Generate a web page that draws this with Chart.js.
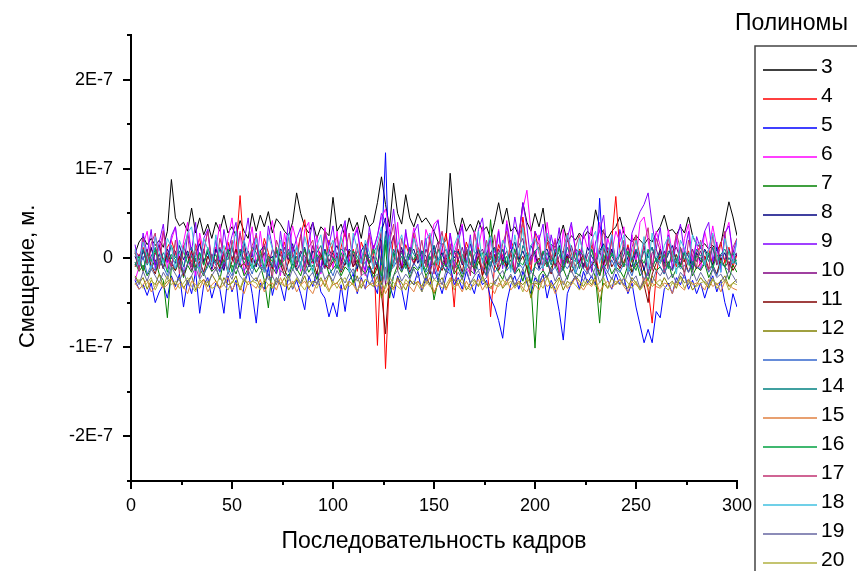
<!DOCTYPE html>
<html>
<head>
<meta charset="utf-8">
<script src="https://cdn.jsdelivr.net/npm/chart.js@4.4.0/dist/chart.umd.min.js"></script>
<style>
    html, body { margin: 0; padding: 0; background: #fff; }
</style>
</head>
<body>
<canvas id="chart-1" width="857" height="571"></canvas>
<script>
// frame numbers (every second frame)
var frames = [
    2,4,6,8,10,12,14,16,18,20,
    22,24,26,28,30,32,34,36,38,40,
    42,44,46,48,50,52,54,56,58,60,
    62,64,66,68,70,72,74,76,78,80,
    82,84,86,88,90,92,94,96,98,100,
    102,104,106,108,110,112,114,116,118,120,
    122,124,126,128,130,132,134,136,138,140,
    142,144,146,148,150,152,154,156,158,160,
    162,164,166,168,170,172,174,176,178,180,
    182,184,186,188,190,192,194,196,198,200,
    202,204,206,208,210,212,214,216,218,220,
    222,224,226,228,230,232,234,236,238,240,
    242,244,246,248,250,252,254,256,258,260,
    262,264,266,268,270,272,274,276,278,280,
    282,284,286,288,290,292,294,296,298,300
];

// displacement, nm (1E-7 m = 100)
var p3 = [
    5,18,24,15,22,14,20,12,30,88,
    45,36,40,30,56,28,45,26,38,22,
    40,30,48,28,35,25,42,30,22,50,
    30,48,35,52,28,44,38,30,25,40,
    73,50,35,28,40,22,35,30,25,68,
    30,38,24,45,30,40,22,48,35,40,
    62,91,60,35,84,50,38,71,45,35,
    50,40,45,38,30,18,15,20,95,40,
    25,45,30,38,28,42,30,35,22,40,
    62,38,56,30,35,25,62,40,30,50,
    35,56,20,15,12,22,37,18,25,20,
    28,22,30,25,54,35,28,22,30,35,
    46,28,22,18,25,20,15,22,18,28,
    35,48,30,32,26,35,28,46,25,15,
    12,16,10,14,8,15,40,63,46,25
];
var p4 = [
    8,2,12,-5,10,4,15,-3,12,20,
    5,-8,14,2,-4,10,22,-6,8,0,
    12,-5,6,18,-2,10,70,5,-10,8,
    15,-4,22,6,-12,10,2,18,-6,12,
    4,25,43,8,-5,14,2,-10,20,6,
    -8,12,30,-4,10,-15,18,5,-6,14,
    -98,10,-124,-20,25,8,-10,15,2,-5,
    12,4,-8,20,6,-15,10,28,-5,-55,
    10,-6,18,4,-10,12,-20,5,-66,-8,
    15,2,-12,20,8,-4,46,10,-15,30,
    5,-10,18,2,-8,14,-4,22,6,-12,
    10,0,-15,14,4,-20,12,-6,20,69,
    8,-10,15,-5,22,2,-12,-35,-73,-20,
    10,-8,16,4,-10,12,-4,8,-15,6,
    14,-2,10,-8,5,18,-6,12,-10,4
];
var p5 = [
    -25,-35,-30,-42,-28,-50,-38,-30,-45,-20,
    -32,-18,-55,-25,-40,-15,-62,-30,-22,-45,
    -28,-35,-62,-20,-38,-25,-68,-30,-15,-40,
    -73,-28,-35,-10,-42,-22,-30,-48,-18,-35,
    -25,-40,-58,-20,-32,-15,-38,-45,-66,-50,
    -66,-30,-60,-25,-18,-40,-22,-35,-10,-28,
    -40,5,118,-30,-45,-20,-35,-58,-25,-30,
    -15,-38,-22,-30,-12,-25,-40,-20,-8,-30,
    -22,-35,-15,-28,-40,-18,-30,-25,-45,-55,
    -70,-90,-50,-30,-20,-35,-15,-28,-40,-22,
    -30,-18,-45,-25,-35,-60,-92,-40,-28,-20,
    -35,-15,-28,-20,-30,67,-10,-25,-35,-18,
    -30,-22,-40,-28,-55,-75,-95,-80,-95,-60,
    -67,-35,-28,-40,-22,-30,-18,-35,-25,-40,
    -28,-45,-30,-20,-38,-25,-50,-66,-40,-55
];
var p6 = [
    -25,-10,15,30,-5,25,8,31,-12,20,
    35,-8,18,40,4,-20,28,6,32,-15,
    10,38,-12,22,45,4,30,-18,12,35,
    -10,30,-4,24,42,8,-20,28,2,36,
    18,-15,32,40,-6,25,-18,34,10,-12,
    30,-8,38,-14,22,35,2,-20,28,8,
    25,45,55,30,-10,40,-15,28,6,34,
    12,-16,32,18,38,43,-8,-15,28,4,
    24,38,-10,-18,30,12,35,-22,20,6,
    32,-6,42,15,-14,28,55,76,30,-5,
    26,-15,40,8,22,-18,32,-4,36,12,
    -12,28,10,35,-6,40,-18,22,6,30,
    18,35,-14,26,-4,40,46,20,-12,30,
    14,-16,32,5,26,-10,22,38,-4,18,
    -14,30,8,36,12,-12,26,40,-2,20
];
var p7 = [
    -5,-15,-8,-20,-12,-2,-18,-25,-67,-10,
    -14,-4,-22,-8,-16,0,-12,-20,-6,-15,
    -10,-24,-2,-14,-8,-18,-4,-20,-12,-6,
    -16,-8,-25,-56,-10,-18,-2,-14,-22,-6,
    -12,-20,-4,-16,-8,-24,-10,-2,-18,-12,
    -6,-20,-10,-15,-28,-4,-12,-18,-8,-22,
    -10,-30,15,-45,-20,-8,-16,-4,-22,-10,
    -14,-6,-20,-12,-47,-25,-8,-16,-2,-18,
    -10,-22,-6,-14,-18,-4,-12,-20,43,-8,
    -16,-24,-10,-2,-18,-12,-26,-8,-30,-101,
    -20,-14,-22,-10,-4,-18,-12,-24,-8,-16,
    -20,-6,-14,-10,-22,-73,-12,-4,-18,-10,
    -14,-22,-8,-16,-2,-20,-12,-26,-6,-14,
    -10,-18,-4,-22,-12,-8,-16,-2,-20,-10,
    -14,-6,-22,-12,-18,-4,-10,-24,-8,-16
];
var p8 = [
    2,-10,8,-4,12,-8,5,-12,10,0,
    -6,14,-2,8,-10,4,16,-4,6,-12,
    10,-2,-14,6,12,-6,2,18,-8,4,
    -10,8,14,-4,2,-12,10,6,-2,16,
    -6,4,12,-10,8,2,-14,10,-4,6,
    14,-2,-8,10,4,-12,8,16,-6,2,
    -10,30,45,-20,6,-4,12,-8,4,10,
    -6,8,2,-12,14,-2,6,-10,12,0,
    8,-8,4,16,-6,10,-2,-12,6,12,
    -4,10,-10,6,18,-2,8,-6,14,4,
    -12,6,10,-4,2,14,-8,4,-2,10,
    6,-10,12,2,-6,8,16,-4,10,-8,
    4,12,-2,-10,8,2,-14,6,12,-4,
    10,-6,4,14,-2,-8,8,2,-12,6,
    -4,10,2,-8,12,-2,6,-10,8,2
];
var p9 = [
    15,-10,28,4,32,-12,18,38,-5,25,
    35,-2,-18,28,8,40,-10,22,32,-4,
    20,-15,32,6,25,40,-8,18,45,2,
    28,-6,-14,36,12,-18,30,-2,42,6,
    22,34,-10,18,40,2,-16,28,14,36,
    -4,26,42,-12,20,32,-2,-14,35,10,
    25,50,40,20,55,10,-12,32,-2,28,
    38,-4,22,-16,30,42,12,-8,28,-10,
    18,36,-6,26,-18,32,45,2,24,-4,
    30,-12,38,10,46,22,62,35,-6,30,
    20,38,-10,26,4,34,-14,22,40,8,
    -6,28,36,-16,18,30,48,-2,26,-12,
    32,12,-14,28,40,52,60,73,38,10,
    34,-4,26,-12,20,38,6,30,-14,24,
    10,30,40,-4,18,-16,28,36,6,22
];
var p10 = [
    -8,4,-2,10,-12,6,14,-4,2,-10,
    8,-6,12,2,-14,6,-2,10,-8,4,
    -4,12,-10,6,2,-12,10,-2,8,-6,
    14,-4,6,-10,10,2,-8,12,-2,6,
    -10,8,2,-6,14,-4,6,-12,10,0,
    6,-8,12,4,-10,8,-2,14,-6,2,
    -12,20,-30,10,25,-6,8,-4,12,-8,
    4,-10,10,-2,6,18,-8,4,-12,8,
    -2,12,-6,8,-14,4,10,-4,6,-10,
    10,-2,8,-10,4,14,22,-6,2,8,
    -8,6,-4,12,-10,2,8,-6,14,-2,
    6,-12,4,10,-4,8,-8,12,2,-6,
    -10,4,12,-2,8,-6,14,-20,6,10,
    -4,8,-10,6,12,-2,4,-8,10,-4,
    8,-6,2,12,-8,4,-2,10,-6,6
];
var p11 = [
    -10,-2,-15,4,-8,-18,0,-12,6,-6,
    -14,2,-20,-6,8,-10,-4,-16,2,-8,
    -2,-12,6,-18,-4,10,-10,-6,-14,0,
    -8,4,-16,-2,-12,8,-6,-20,-4,2,
    -14,-6,10,-10,-2,-18,4,-8,-12,-4,
    2,-16,-6,8,-10,-2,-14,4,-8,-18,
    -6,-40,-85,-20,-4,10,-12,-2,-16,-6,
    4,-10,-2,-18,6,-8,-14,0,-6,-12,
    -2,-16,8,-6,-12,2,-20,-4,-10,4,
    -14,-2,-8,6,-16,-6,2,-12,-30,-8,
    0,-10,-4,-18,6,-6,-12,2,-16,-8,
    -4,4,-14,-8,-2,-20,-6,8,-10,-2,
    -12,-4,6,-16,-8,-2,-30,-50,-18,-6,
    2,-10,-6,-14,4,-8,-2,-16,-4,-12,
    -6,2,-12,-8,-18,0,-10,-4,-14,-6
];
var p12 = [
    -20,-28,-22,-35,-25,-30,-18,-32,-26,-24,
    -30,-22,-34,-26,-20,-36,-28,-24,-32,-18,
    -26,-34,-22,-30,-28,-20,-36,-24,-30,-26,
    -22,-32,-28,-18,-34,-26,-30,-22,-36,-28,
    -24,-30,-20,-34,-26,-28,-22,-32,-18,-30,
    -28,-22,-36,-26,-30,-20,-34,-24,-28,-32,
    -20,-45,-30,-26,-34,-22,-28,-36,-24,-30,
    -26,-32,-20,-30,-40,-28,-22,-34,-26,-24,
    -30,-22,-36,-28,-24,-32,-20,-30,-34,-26,
    -22,-34,-28,-20,-32,-26,-30,-24,-45,-28,
    -30,-24,-20,-34,-28,-22,-36,-26,-30,-20,
    -26,-32,-24,-30,-20,-50,-28,-34,-22,-30,
    -24,-30,-34,-22,-28,-36,-26,-32,-20,-28,
    -32,-22,-30,-26,-34,-20,-28,-24,-36,-30,
    -22,-28,-34,-24,-30,-26,-20,-32,-28,-24
];
var p13 = [
    -5,-12,2,-18,-8,-14,0,-10,-20,-4,
    -12,-2,-16,-8,4,-14,-6,-18,-10,0,
    -8,-16,-4,-12,-20,-2,-10,-14,-6,-18,
    -2,-12,-8,-20,-4,-14,-10,2,-16,-6,
    -14,-4,-18,-8,-12,0,-16,-6,-10,-20,
    -6,-14,-2,-10,-18,-8,-12,-4,-16,-10,
    -4,-25,30,-15,-10,-2,-14,-8,-18,-6,
    -12,-2,-16,-10,-6,-20,-8,-14,-4,-12,
    -8,-18,-6,-12,-2,-14,-10,-20,-4,-16,
    -10,-4,-14,-8,-18,-6,-12,-2,-16,-10,
    -14,-8,-2,-16,-10,-20,-6,-12,-4,-18,
    -6,-12,-18,-4,-10,-14,-8,-16,-2,-12,
    -16,-6,-10,-20,-4,-12,-25,-14,-8,-2,
    -10,-18,-6,-14,-2,-12,-8,-16,-4,-10,
    -12,-4,-16,-8,-20,-6,-10,-14,-2,-8
];
var p14 = [
    5,-4,10,-8,2,12,-6,6,-2,14,
    0,8,-10,4,12,-4,6,-8,10,2,
    -6,10,4,-2,14,-8,2,8,-4,12,
    6,-6,12,0,-10,8,4,-2,10,-8,
    12,2,-6,10,-4,6,14,-8,4,0,
    -4,10,6,-10,8,2,-6,12,0,6,
    14,-8,25,-15,10,-2,6,-6,12,4,
    -2,8,-8,6,14,-4,2,10,-6,8,
    6,-4,12,-8,4,10,-2,6,-10,12,
    0,10,-6,8,2,-10,14,4,-4,8,
    12,-2,6,-8,10,4,-6,12,0,-4,
    8,2,-10,10,-4,6,14,-6,4,-2,
    -8,12,4,-2,10,-6,8,0,12,-4,
    6,-10,8,2,-6,12,-2,6,-8,10,
    2,8,-4,12,-6,4,10,-2,6,-8
];
var p15 = [
    -28,-35,-30,-24,-38,-32,-26,-34,-30,-22,
    -36,-28,-32,-40,-26,-30,-34,-24,-38,-30,
    -26,-34,-30,-22,-36,-28,-32,-40,-26,-30,
    -34,-24,-38,-30,-28,-36,-22,-32,-30,-26,
    -38,-30,-26,-34,-40,-28,-32,-24,-36,-30,
    -28,-36,-32,-26,-30,-38,-24,-34,-30,-28,
    -32,-26,-40,-30,-36,-24,-34,-28,-32,-38,
    -26,-34,-30,-22,-38,-30,-28,-36,-24,-32,
    -30,-38,-26,-34,-30,-24,-36,-28,-32,-40,
    -28,-32,-24,-36,-30,-26,-34,-38,-28,-30,
    -36,-24,-32,-28,-40,-30,-26,-34,-30,-22,
    -30,-36,-28,-32,-24,-38,-30,-26,-34,-28,
    -24,-32,-38,-26,-30,-34,-22,-36,-28,-32,
    -34,-28,-30,-40,-26,-32,-36,-24,-30,-28,
    -30,-36,-24,-32,-28,-38,-26,-30,-34,-36
];
var p16 = [
    -8,2,-14,6,-4,10,-10,0,-16,4,
    -2,-12,8,-6,2,-14,6,-8,12,-4,
    4,-10,-2,10,-16,0,8,-6,2,-12,
    -6,8,-12,2,-4,12,-8,-2,6,-14,
    2,-8,10,-4,-14,4,-2,8,-10,0,
    -12,6,-4,-10,8,-2,-16,4,-6,10,
    -4,-20,20,-25,6,-8,2,-12,4,-2,
    8,-6,-14,2,-8,10,-4,-10,6,-2,
    -10,4,-6,8,-12,0,6,-14,2,-4,
    6,-8,2,-12,10,-4,-8,4,-30,-6,
    -4,8,-10,2,-6,12,-14,0,-8,6,
    -12,2,-4,10,-8,-20,4,-10,6,-2,
    4,-10,8,-4,-14,2,-6,10,-12,0,
    -6,4,-12,8,-2,-10,6,-4,-14,2,
    0,-8,6,-12,4,-4,-10,8,-6,-2
];
var p17 = [
    8,-14,22,-6,16,28,-12,30,2,-10,
    20,-18,12,26,-10,16,-22,8,30,-4,
    -14,22,4,-16,20,-6,28,10,-18,14,
    26,-10,16,-2,-22,20,6,-14,24,2,
    -6,26,-16,12,20,-10,4,30,-12,16,
    24,-12,8,28,-6,16,-20,10,26,-10,
    10,30,-25,18,38,-14,22,2,-12,28,
    -2,20,-10,26,-18,12,30,-6,16,-16,
    22,-6,12,-20,28,6,-14,20,-2,26,
    -10,16,30,2,-16,22,40,10,-8,20,
    16,-14,26,-2,20,-20,8,28,-10,12,
    26,2,-16,20,-6,12,32,-12,22,-2,
    -6,20,-18,12,26,-10,16,34,-14,22,
    8,-16,24,-4,28,10,-20,20,2,-10,
    20,-2,-14,26,-6,16,30,-16,12,22
];
var p18 = [
    10,-8,18,2,-14,24,6,-6,22,12,
    -12,20,6,28,35,2,-16,22,10,-10,
    26,-2,14,-18,10,30,-6,20,4,-12,
    22,2,-16,26,10,-8,20,-2,28,-6,
    14,-12,24,6,-18,14,26,-6,10,20,
    -8,24,2,-16,28,10,-6,20,6,-12,
    18,35,-25,25,-10,14,26,2,-10,22,
    10,-16,20,28,2,-8,24,10,-18,14,
    26,2,-12,20,6,30,-6,14,24,-8,
    -2,20,10,-16,26,2,34,-8,14,22,
    6,-12,28,14,-6,20,-2,26,10,-16,
    22,6,-10,20,30,-6,14,2,26,-12,
    10,26,-16,6,20,-2,24,-12,28,2,
    -6,14,24,6,-18,20,10,-8,26,14,
    18,-8,10,28,2,-16,22,6,-6,20
];
var p19 = [
    -22,-30,-15,-26,-12,-20,-28,-16,-24,-10,
    -18,-26,-14,-30,-20,-10,-24,-16,-28,-20,
    -12,-22,-30,-16,-24,-8,-20,-26,-14,-22,
    -26,-16,-10,-24,-20,-30,-14,-18,-26,-12,
    -20,-28,-14,-22,-16,-30,-10,-24,-18,-26,
    -14,-22,-28,-18,-12,-26,-20,-16,-30,-22,
    -18,-35,-10,-30,-20,-14,-26,-18,-24,-12,
    -22,-16,-28,-12,-24,-20,-30,-14,-18,-26,
    -16,-24,-12,-28,-20,-14,-26,-22,-10,-30,
    -20,-14,-26,-18,-30,-22,-12,-24,-16,-20,
    -28,-18,-22,-12,-26,-16,-30,-20,-14,-24,
    -18,-26,-14,-22,-10,-28,-20,-16,-24,-12,
    -22,-30,-16,-26,-20,-34,-24,-18,-28,-14,
    -20,-12,-24,-18,-28,-16,-22,-30,-14,-26,
    -16,-24,-30,-12,-22,-18,-26,-14,-20,-28
];
var p20 = [
    -30,-24,-34,-28,-22,-36,-26,-32,-20,-30,
    -26,-34,-28,-22,-32,-38,-24,-30,-26,-34,
    -32,-20,-30,-36,-26,-28,-34,-22,-30,-26,
    -28,-36,-24,-30,-34,-22,-28,-32,-20,-34,
    -22,-30,-36,-26,-28,-34,-24,-30,-38,-26,
    -34,-26,-22,-32,-28,-36,-30,-24,-28,-32,
    -26,-30,-34,-22,-28,-32,-36,-24,-30,-26,
    -30,-38,-26,-32,-24,-28,-34,-30,-22,-36,
    -24,-28,-32,-36,-26,-30,-22,-34,-28,-30,
    -32,-24,-30,-26,-34,-28,-38,-22,-30,-26,
    -28,-34,-22,-30,-36,-24,-28,-32,-26,-30,
    -36,-26,-30,-24,-32,-28,-22,-34,-30,-26,
    -30,-22,-28,-34,-26,-36,-30,-24,-32,-28,
    -24,-32,-36,-28,-30,-22,-34,-26,-28,-32,
    -28,-26,-32,-22,-34,-30,-24,-36,-28,-30
];

var seriesNames = ["3","4","5","6","7","8","9","10","11","12","13","14","15","16","17","18","19","20"];
var seriesValues = [p3,p4,p5,p6,p7,p8,p9,p10,p11,p12,p13,p14,p15,p16,p17,p18,p19,p20];
var seriesColors = [
    "#000000", "#FF0000", "#0000FF", "#FF00FF", "#008000", "#000080",
    "#8000FF", "#800080", "#800000", "#808000", "#3366CC", "#008080",
    "#E08040", "#00A040", "#C03070", "#40C0E0", "#6666A0", "#B0B040"
];

var FONT = '"Liberation Sans", Arial, sans-serif';

function isMajorY(v) {
    var k = v / 1e-7;
    return Math.abs(k - Math.round(k)) < 1e-6;
}

// short/long outward tick marks
const axisTicks = {
    id: 'axisTicks',
    afterDraw(chart) {
        const {ctx, chartArea, scales} = chart;
        ctx.save();
        ctx.strokeStyle = '#000';
        ctx.lineWidth = 2;
        ctx.beginPath();
        scales.x.ticks.forEach(t => {
            const px = Math.round(scales.x.getPixelForValue(t.value));
            const len = t.value % 50 === 0 ? 8 : 4;
            ctx.moveTo(px, chartArea.bottom);
            ctx.lineTo(px, chartArea.bottom + len);
        });
        scales.y.ticks.forEach(t => {
            const py = Math.round(scales.y.getPixelForValue(t.value));
            const len = isMajorY(t.value) ? 8 : 4;
            ctx.moveTo(chartArea.left, py);
            ctx.lineTo(chartArea.left - len, py);
        });
        ctx.stroke();
        ctx.restore();
    }
};

// boxed legend on the right, title above the box
const legendBox = {
    id: 'legendBox',
    afterDraw(chart) {
        const ctx = chart.ctx;
        ctx.save();
        ctx.fillStyle = '#000';
        ctx.textAlign = 'left';
        ctx.textBaseline = 'middle';
        ctx.font = '23px ' + FONT;
        ctx.fillText('Полиномы', 735, 24);
        ctx.strokeStyle = '#444';
        ctx.lineWidth = 1.5;
        ctx.strokeRect(755, 46, 200, 600);
        ctx.font = '21px ' + FONT;
        chart.data.datasets.forEach((ds, i) => {
            const yy = 67 + i * 29;
            ctx.strokeStyle = ds.borderColor;
            ctx.lineWidth = 1.5;
            ctx.beginPath();
            ctx.moveTo(763, yy + 3);
            ctx.lineTo(817, yy + 3);
            ctx.stroke();
            ctx.fillText(ds.label, 821, yy);
        });
        ctx.restore();
    }
};

var datasets = seriesValues.map((vals, i) => ({
    label: seriesNames[i],
    data: frames.map((f, j) => ({x: f, y: vals[j] * 1e-9})),
    borderColor: seriesColors[i],
    backgroundColor: seriesColors[i],
    borderWidth: 1,
    pointRadius: 0,
    tension: 0,
    fill: false,
    order: seriesValues.length - i
}));

var ctx_1 = document.getElementById('chart-1');
var myChart = new Chart(ctx_1, {
    type: 'line',
    data: { datasets: datasets },
    options: {
        responsive: false,
        animation: false,
        layout: {
            padding: { top: 35, right: 120, left: 0, bottom: 0 }
        },
        plugins: {
            legend: { display: false },
            tooltip: { enabled: false }
        },
        scales: {
            x: {
                type: 'linear',
                min: 0,
                max: 300,
                afterFit: (scale) => { scale.height = 90; },
                grid: { display: false, drawTicks: false },
                border: { display: true, color: '#000', width: 2 },
                ticks: {
                    stepSize: 25,
                    autoSkip: false,
                    maxRotation: 0,
                    padding: 14,
                    color: '#000',
                    font: { family: FONT, size: 18 },
                    callback: (v) => (v % 50 === 0 ? String(v) : '')
                },
                title: {
                    display: true,
                    text: 'Последовательность кадров',
                    color: '#000',
                    font: { family: FONT, size: 23 },
                    padding: { top: 0, bottom: 16 }
                }
            },
            y: {
                min: -2.5e-7,
                max: 2.5e-7,
                afterFit: (scale) => { scale.width = 131; },
                grid: { display: false, drawTicks: false },
                border: { display: true, color: '#000', width: 2 },
                ticks: {
                    stepSize: 0.5e-7,
                    autoSkip: false,
                    padding: 18,
                    color: '#000',
                    font: { family: FONT, size: 18 },
                    callback: (v) => {
                        if (Math.abs(v) < 1e-12) return '0';
                        return isMajorY(v) ? Math.round(v / 1e-7) + 'E-7' : '';
                    }
                },
                title: {
                    display: true,
                    text: 'Смещение, м.      ',
                    color: '#000',
                    font: { family: FONT, size: 22 },
                    padding: { top: 15, bottom: 0 }
                }
            }
        }
    },
    plugins: [axisTicks, legendBox]
});
</script>
</body>
</html>
